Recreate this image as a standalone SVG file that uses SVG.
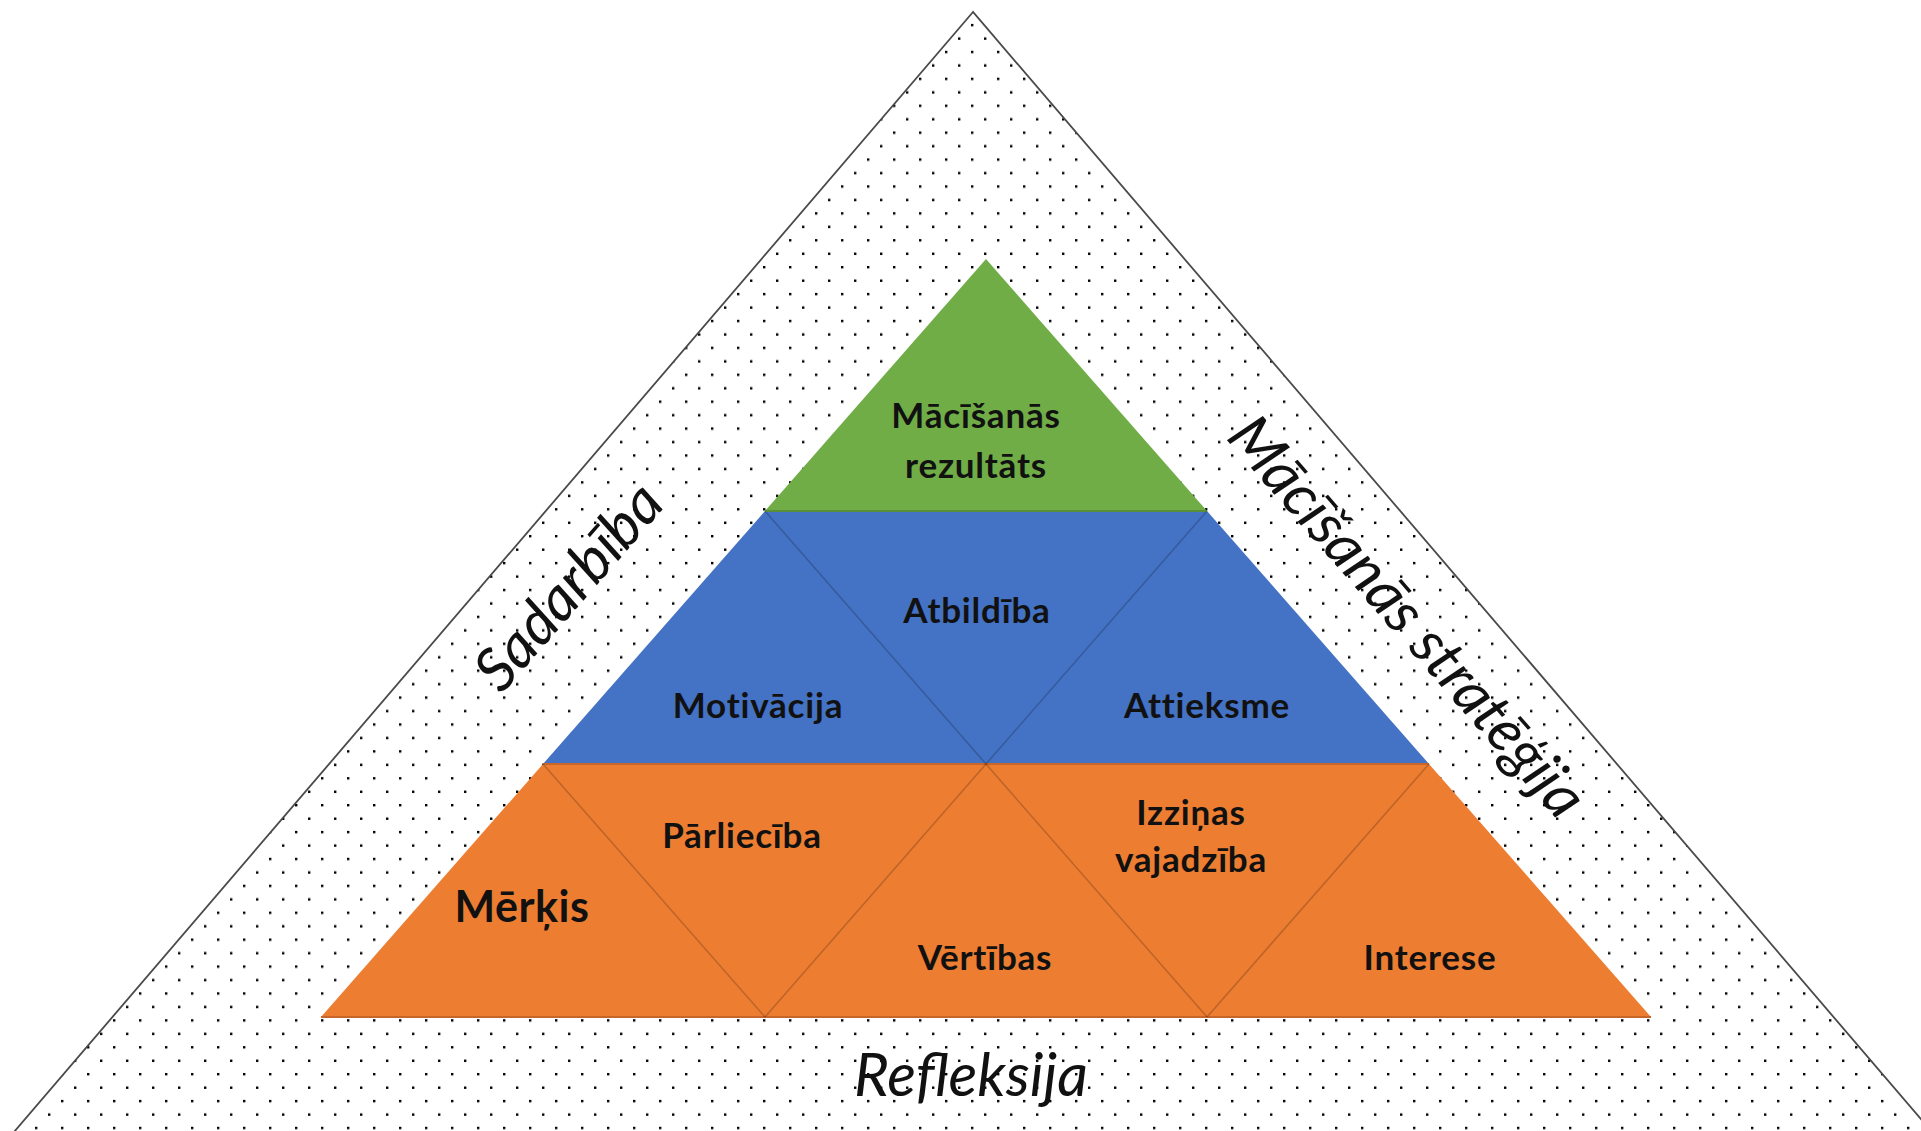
<svg xmlns="http://www.w3.org/2000/svg" width="1921" height="1131" viewBox="0 0 1921 1131">
  <defs>
    <pattern id="dots" patternUnits="userSpaceOnUse" x="0" y="0" width="26" height="26.9">
      <rect x="22" y="10.5" width="2.4" height="2.4" fill="#000"/>
      <rect x="9" y="23.9" width="2.4" height="2.4" fill="#000"/>
    </pattern>
    <style>
      .lbl { font-family: Lato, "Open Sans", "Liberation Sans", sans-serif; font-weight: bold; font-size: 35px; letter-spacing: 0.8px; fill: #111; text-anchor: middle; }
      .side { font-family: Lato, "Open Sans", "Liberation Sans", sans-serif; font-style: italic; font-size: 60px; fill: #111; text-anchor: middle; }
      .div { stroke: #000; stroke-opacity: 0.2; stroke-width: 1.6; fill: none; }
    </style>
  </defs>
  <rect width="1921" height="1131" fill="#fff"/>

  <g id="outer">
    <polygon points="973,12 -4,1153 1950,1153" fill="url(#dots)" stroke="#4a4a4a" stroke-width="1.8"/>
  </g>

  <g id="level-green">
    <polygon points="986,259 765,511 1207,511" fill="#70AD47"/>
  </g>
  <g id="level-blue">
    <polygon points="765,511 1207,511 1429,764 543,764" fill="#4472C4"/>
  </g>
  <g id="level-orange">
    <polygon points="543,764 1429,764 1651,1017 321,1017" fill="#ED7D31"/>
  </g>

  <g id="connectors">
    <line x1="765" y1="511" x2="1207" y2="511" stroke="#5a8f3a" stroke-width="2"/>
    <line x1="543" y1="764" x2="1429" y2="764" stroke="#c8652a" stroke-width="2"/>
    <line x1="321" y1="1017" x2="1651" y2="1017" stroke="#c8652a" stroke-width="2"/>
    <line class="div" x1="765" y1="511" x2="986" y2="764"/>
    <line class="div" x1="1207" y1="511" x2="986" y2="764"/>
    <line class="div" x1="543" y1="764" x2="765" y2="1017"/>
    <line class="div" x1="986" y1="764" x2="765" y2="1017"/>
    <line class="div" x1="986" y1="764" x2="1207" y2="1017"/>
    <line class="div" x1="1429" y1="764" x2="1207" y2="1017"/>
  </g>

  <g id="node-rezultats">
    <text class="lbl" x="976" y="428">Mācīšanās</text>
    <text class="lbl" x="976" y="478">rezultāts</text>
  </g>
  <g id="node-atbildiba"><text class="lbl" x="977" y="623">Atbildība</text></g>
  <g id="node-motivacija"><text class="lbl" x="758" y="718">Motivācija</text></g>
  <g id="node-attieksme"><text class="lbl" x="1207" y="718">Attieksme</text></g>
  <g id="node-merkis"><text class="lbl" x="522" y="922" style="font-size:43px;letter-spacing:0.5px">Mērķis</text></g>
  <g id="node-parlieciba"><text class="lbl" x="742" y="848">Pārliecība</text></g>
  <g id="node-vertibas"><text class="lbl" x="985" y="970">Vērtības</text></g>
  <g id="node-izzinas">
    <text class="lbl" x="1191" y="825">Izziņas</text>
    <text class="lbl" x="1191" y="872">vajadzība</text>
  </g>
  <g id="node-interese"><text class="lbl" x="1430" y="970">Interese</text></g>

  <g id="label-refleksija"><text class="side" x="971" y="1096">Refleksija</text></g>
  <g id="label-sadarbiba"><text class="side" transform="translate(584,600) rotate(-49)">Sadarbība</text></g>
  <g id="label-strategija"><text class="side" transform="translate(1392,630) rotate(49)">Mācīšanās stratēģija</text></g>
</svg>
